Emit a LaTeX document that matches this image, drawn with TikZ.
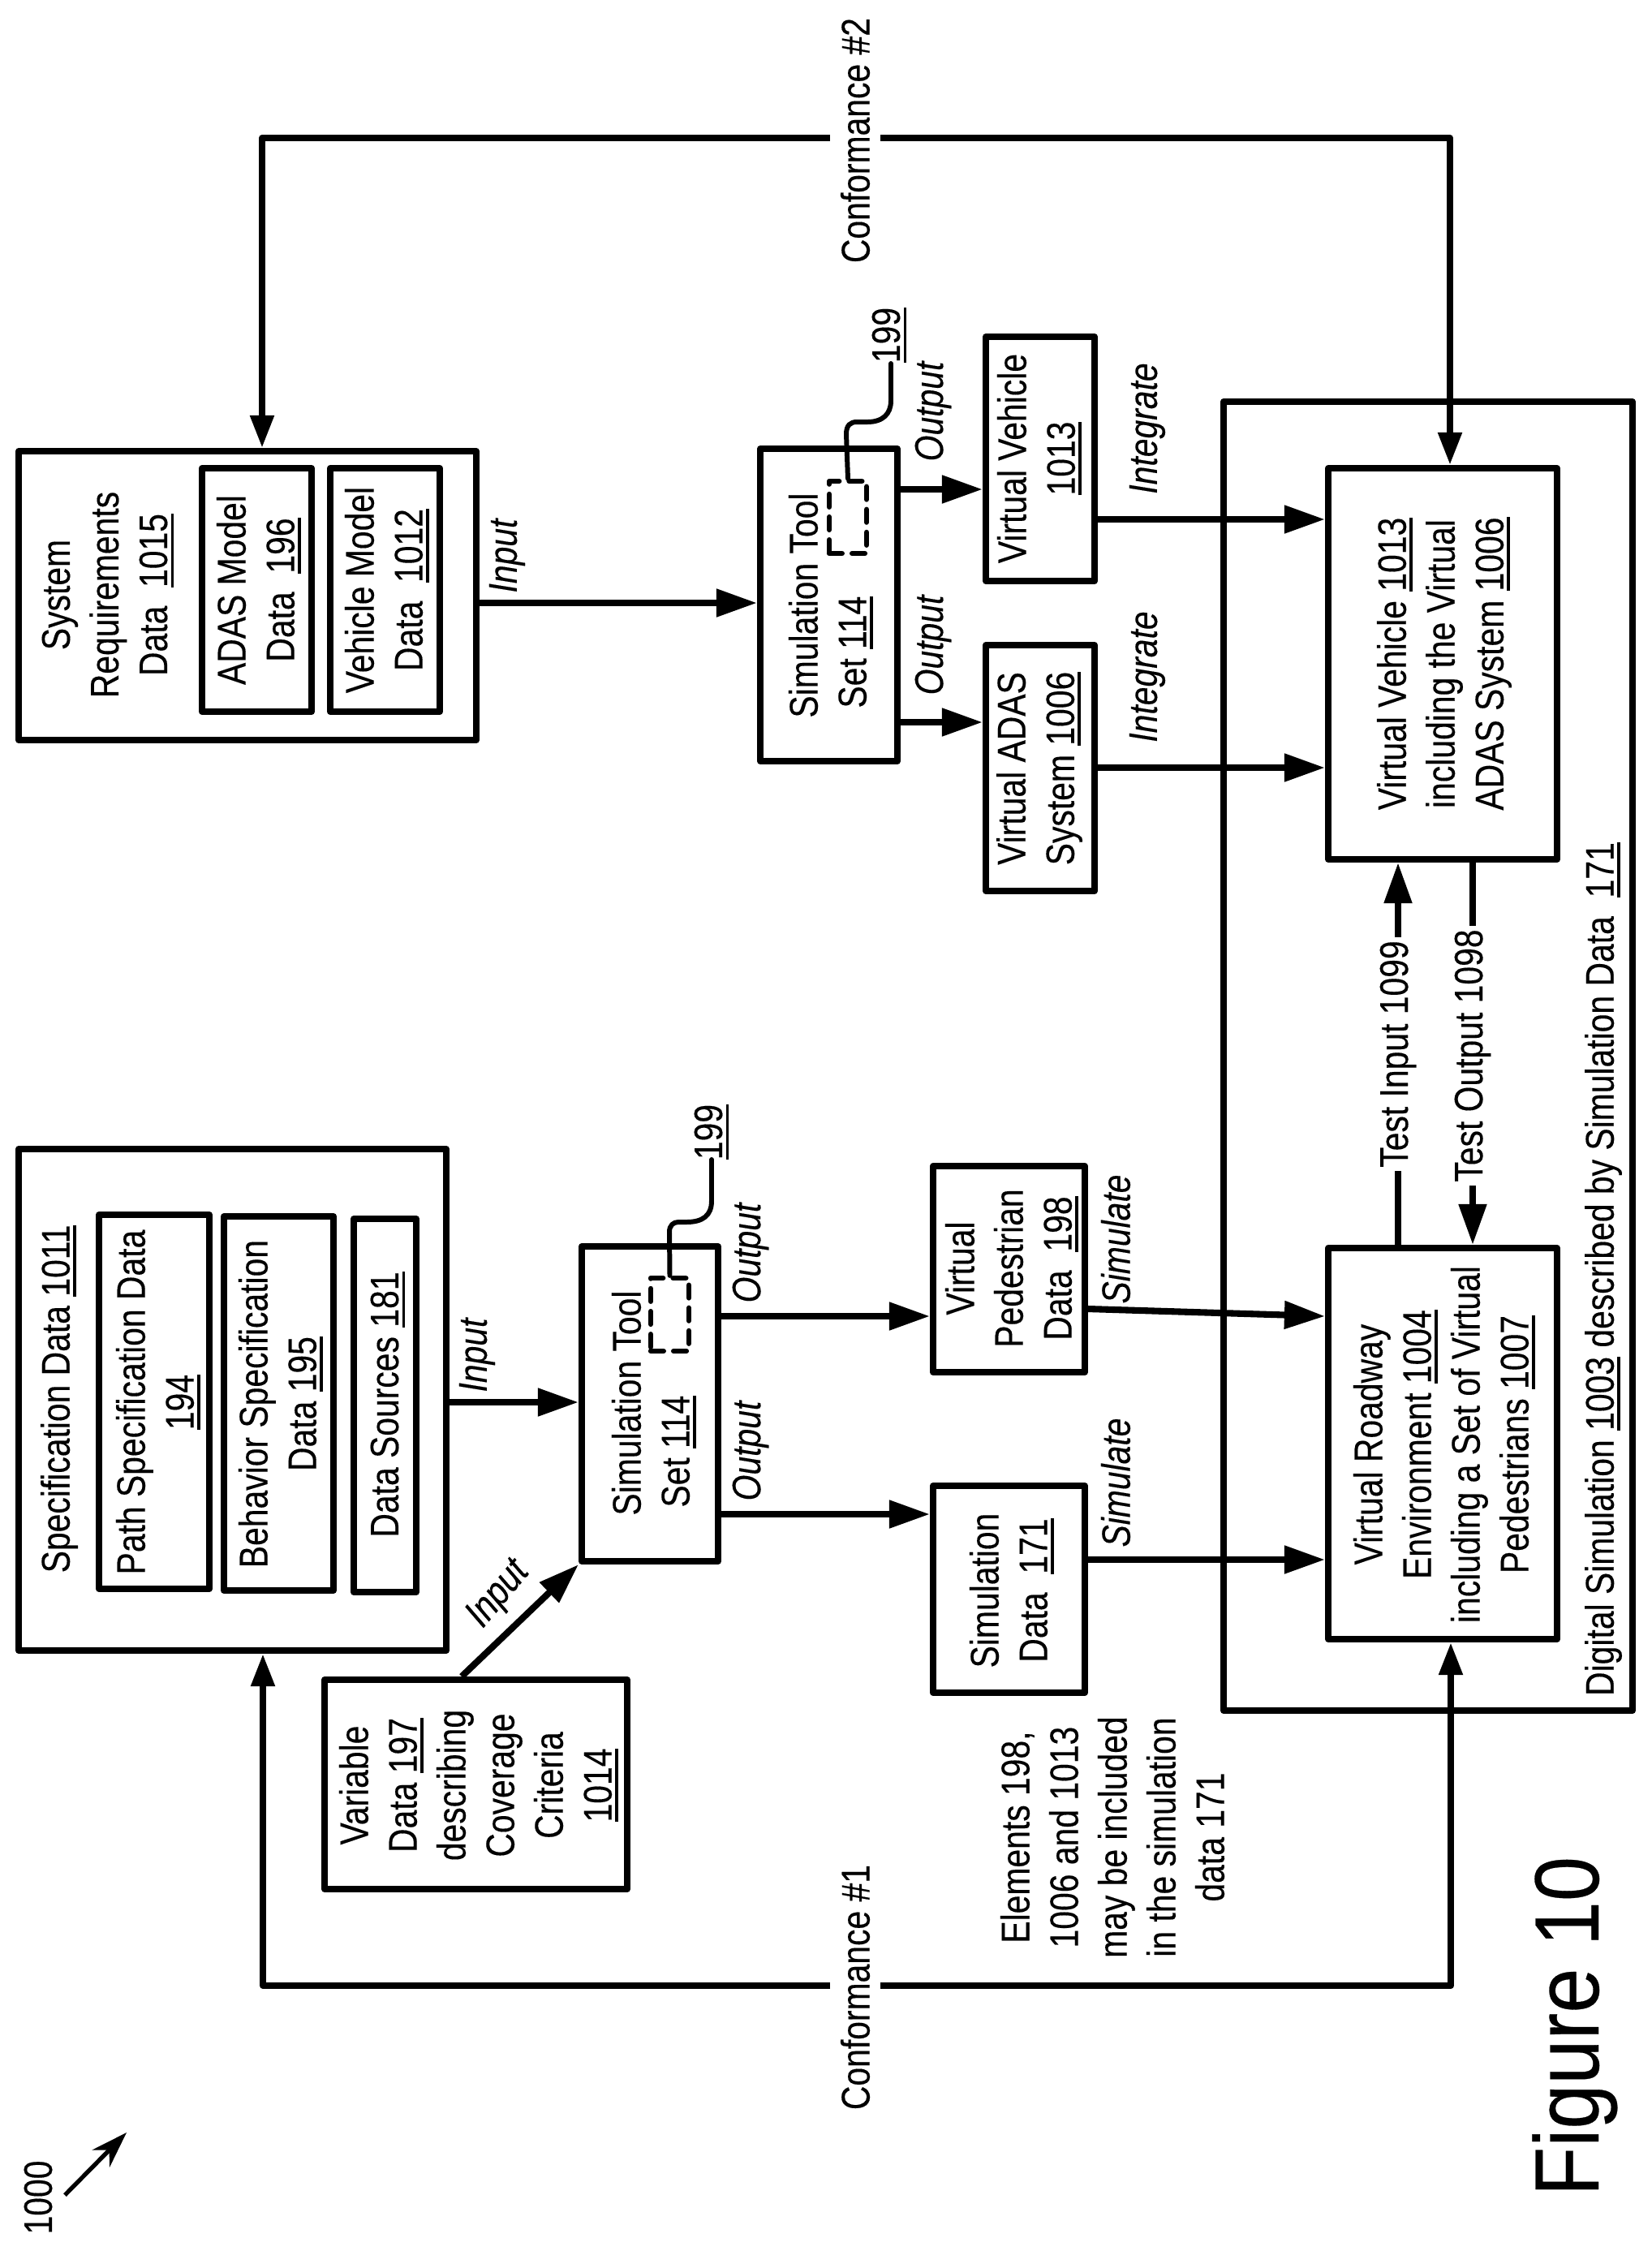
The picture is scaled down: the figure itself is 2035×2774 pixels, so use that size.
\documentclass[tikz,border=0pt]{standalone}
\usepackage{fontspec}
\setmainfont[FakeStretch=0.83,FakeBold=0.25]{Liberation Sans}
\newfontfamily\figfont[FakeStretch=0.88,FakeBold=0.25]{Liberation Sans}
\usetikzlibrary{arrows.meta,calc}
\newcommand{\ulx}[1]{\leavevmode\setbox0\hbox{#1}\rlap{\rule[-2.4pt]{\wd0}{1.1pt}}\box0\relax}
\tikzset{
  box/.style={draw=black,line width=2.3pt,line join=round,inner sep=0pt},
  dashbox/.style={draw=black,line width=1.8pt,line cap=round,line join=round,dash pattern=on 4.5pt off 3.5pt,inner sep=0pt},
  txt/.style={rotate=90,align=center,inner sep=0pt,font=\fontsize{14}{17.07}\selectfont},
  ital/.style={txt,font=\fontsize{14}{17.07}\selectfont\itshape},
  arr/.style={line width=2.3pt,-{Triangle[length=0.5cm,width=0.33cm]}},
  conf/.style={line width=2.3pt,line join=round,{Triangle[length=0.4cm,width=0.28cm]}-{Triangle[length=0.4cm,width=0.28cm]}},
  lead/.style={line width=1.7pt,line cap=round},
  gaplabel/.style={txt,fill=white,inner xsep=0.04cm}
}
\newcommand{\bx}[5]{\node[box,minimum width={(#4-#2)*0.01cm},minimum height={(#5-#3)*0.01cm}] (#1) at ({(#2+#4)/2},{(#3+#5)/2}) {};}
\newcommand{\dbx}[5]{\node[dashbox,minimum width={(#4-#2)*0.01cm},minimum height={(#5-#3)*0.01cm}] (#1) at ({(#2+#4)/2},{(#3+#5)/2}) {};}
\begin{document}
\begin{tikzpicture}[x=0.01cm,y=-0.01cm]
\fill[white] (0,0) rectangle (2035,2774);
\useasboundingbox (0,0) rectangle (2035,2774);
% big frame
\bx{sim}{1508}{495}{2012}{2108}
% boxes
\bx{sysreq}{23}{556}{587}{912}
\bx{adas}{249}{577}{384}{877}
\bx{vehm}{407}{577}{542}{877}
\bx{toolA}{937}{553}{1106}{938}
\dbx{dashA}{1022}{593}{1068}{682}
\bx{vveh}{1215}{415}{1349}{716}
\bx{vadas}{1215}{795}{1349}{1098}
\bx{vvfull}{1637}{577}{1919}{1059}
\bx{spec}{23}{1416}{550}{2034}
\bx{path}{122}{1497}{258}{1958}
\bx{behav}{276}{1499}{411}{1960}
\bx{dsrc}{436}{1502}{513}{1962}
\bx{toolB}{717}{1536}{885}{1924}
\dbx{dashB}{802}{1575}{849}{1665}
\bx{vped}{1150}{1437}{1337}{1691}
\bx{sdata}{1150}{1831}{1337}{2086}
\bx{road}{1637}{1538}{1919}{2020}
\bx{vardata}{400}{2070}{773}{2328}
% box texts
\node[txt] (tSys) at (133,733) {System\\Requirements\\Data\ \ \ulx{1015}};
\node[txt] (tAdas) at (319,727) {ADAS Model\\Data\ \ \ulx{196}};
\node[txt] (tVeh) at (477,727) {Vehicle Model\\Data\ \ \ulx{1012}};
\node[txt,align=left] (tToolA) at (1024,746) {Simulation Tool\\\hspace*{0.12cm}Set \ulx{114}};
\node[txt] (tVveh) at (1281,565) {Virtual Vehicle\\\ulx{1013}};
\node[txt] (tVadas) at (1281,947) {Virtual ADAS\\System \ulx{1006}};
\node[txt] (tFull) at (1780,818) {Virtual Vehicle \ulx{1013}\\including the Virtual\\ADAS System \ulx{1006}};
\node[txt] (tSpec) at (73,1724) {Specification Data \ulx{1011}};
\node[txt] (tPath) at (195,1728) {Path Specification Data\\\ulx{194}};
\node[txt] (tBeh) at (346,1730) {Behavior Specification\\Data \ulx{195}};
\node[txt] (tDsrc) at (478,1731) {Data Sources \ulx{181}};
\node[txt,align=left] (tToolB) at (806,1729) {Simulation Tool\\\hspace*{0.1cm}Set \ulx{114}};
\node[txt] (tPed) at (1247,1563) {Virtual\\Pedestrian\\Data\ \ \ulx{198}};
\node[txt] (tSd) at (1247,1960) {Simulation\\Data\ \ \ulx{171}};
\node[txt] (tRoad) at (1780,1780) {Virtual Roadway\\Environment \ulx{1004}\\including a Set of Virtual\\Pedestrians \ulx{1007}};
\node[txt] (tVar) at (590,2200) {Variable\\Data \ulx{197}\\describing\\Coverage\\Criteria\\\ulx{1014}};
\node[txt] (tDig) at (1976,1564) {Digital Simulation \ulx{1003} described by Simulation Data\ \ \ulx{171}};
\node[txt] (tNote) at (1371,2264) {Elements 198,\\1006 and 1013\\may be included\\in the simulation\\data 171};
% leaders
\node[txt] (lab199A) at (1096,413) {\ulx{199}};
\node[txt] (lab199B) at (877,1395) {\ulx{199}};
\coordinate (endA) at (1098,448);
\coordinate (endB) at (877,1429);
\draw[lead] (dashA.north) -- (1043,535) .. controls (1043,524) and (1048,520) .. (1056,520) -- (1069,520) .. controls (1088,520) and (1098,510) .. (1098,494) -- (endA);
\draw[lead] (dashB.north) -- (825,1518) .. controls (825,1510) and (830,1506) .. (836,1506) -- (846,1506) .. controls (866,1506) and (877,1498) .. (877,1480) -- (endB);
% connectors
\draw[arr] (sysreq.east |- 0,743) -- (toolA.west |- 0,743);
\draw[arr] (toolA.east |- 0,603) -- (vveh.west |- 0,603);
\draw[arr] (toolA.east |- 0,890) -- (vadas.west |- 0,890);
\draw[arr] (vveh.east |- 0,640) -- (vvfull.west |- 0,640);
\draw[arr] (vadas.east |- 0,946) -- (vvfull.west |- 0,946);
\draw[arr] (spec.east |- 0,1728) -- (toolB.west |- 0,1728);
\draw[arr] (toolB.east |- 0,1622) -- (vped.west |- 0,1622);
\draw[arr] (toolB.east |- 0,1866) -- (sdata.west |- 0,1866);
\draw[arr] (vped.east |- 0,1613) -- (road.west |- 0,1622);
\draw[arr] (sdata.east |- 0,1922) -- (road.west |- 0,1922);
\draw[arr] (vardata.north -| 569,0) -- (toolB.south west);
% test in/out
\draw[arr] (road.north -| 1723,0) -- (vvfull.south -| 1723,0);
\draw[arr] (vvfull.south -| 1815,0) -- (road.north -| 1815,0);
\node[gaplabel] (tIn) at (1723,1299) {Test Input 1099};
\node[gaplabel] (tOut) at (1815,1301) {Test Output 1098};
% conformance
\coordinate (c2a) at (1787,170);
\coordinate (c2b) at (323,170);
\coordinate (c1a) at (1788,2447);
\coordinate (c1b) at (324,2447);
\draw[conf] (vvfull.north -| c2a) -- (c2a) -- (c2b) -- (sysreq.north -| c2b);
\draw[conf] (road.south -| c1a) -- (c1a) -- (c1b) -- (spec.south -| c1b);
\node[gaplabel,minimum height=0.62cm] (conf2) at (1054,173) {Conformance \#2};
\node[gaplabel,minimum height=0.62cm] (conf1) at (1054,2449) {Conformance \#1};
% labels
\node[ital] (lIn1) at (625,685) {Input};
\node[ital] (lOut1) at (1150,507) {Output};
\node[ital] (lOut2) at (1150,795) {Output};
\node[ital] (lInt1) at (1414,528) {Integrate};
\node[ital] (lInt2) at (1414,834) {Integrate};
\node[ital] (lIn2) at (588,1670) {Input};
\node[ital,rotate=-40] (lIn3) at (615,1965) {Input};
\node[ital] (lOut3) at (925,1544) {Output};
\node[ital] (lOut4) at (925,1788) {Output};
\node[ital] (lSim1) at (1375,1527) {Simulate};
\node[ital] (lSim2) at (1375,1827) {Simulate};
% ref
\node[txt] (l1000) at (47,2708) {1000};
\coordinate (r1) at (80,2705);
\coordinate (r2) at (156,2628);
\draw[line width=1.5pt,-{Stealth[length=0.45cm,width=0.3cm]}] (r1) -- (r2);
\node[rotate=90,anchor=base,inner sep=0pt,font=\fontsize{32}{38}\selectfont\figfont] (fig) at (1970,2497) {Figure 10};
\end{tikzpicture}
\end{document}
